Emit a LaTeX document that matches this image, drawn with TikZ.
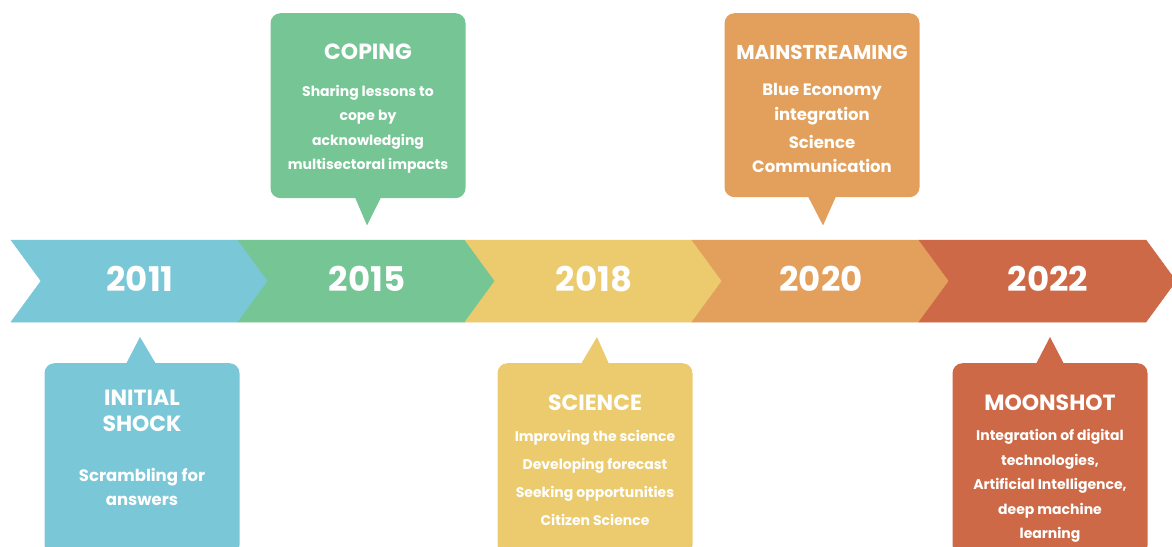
\documentclass[tikz,border=0pt]{standalone}
\usepackage{fontspec}
\setmainfont{Poppins}
\usetikzlibrary{positioning}

\definecolor{tlblue}{HTML}{7AC7D8}
\definecolor{tlgreen}{HTML}{76C695}
\definecolor{tlyellow}{HTML}{EBCB6E}
\definecolor{tlorange}{HTML}{E2A05C}
\definecolor{tlred}{HTML}{CD6946}

\begin{document}
\begin{tikzpicture}[x=1pt, y=-1pt]
    \tikzstyle{year} = [text=white, font=\fontsize{34}{34}\selectfont\bfseries]
    \tikzstyle{callout} = [rectangle, rounded corners=10pt, minimum width=195pt, inner sep=0pt]
    \tikzstyle{title} = [text=white, font=\fontsize{22}{26}\selectfont\bfseries, align=center, inner sep=0pt]
    \tikzstyle{body} = [text=white, font=\fontsize{14}{24.5}\selectfont\bfseries, align=center, inner sep=0pt]

    \useasboundingbox (0,0) rectangle (1172,546);

    % timeline band, one chevron per year
    \foreach \i/\col in {0/tlblue, 1/tlgreen, 2/tlyellow, 3/tlorange, 4/tlred} {
        \filldraw[\col, line width=0.5pt] ({11+227*\i},240) -- ++(227,0) -- ++(30,41) -- ++(-30,41) -- ++(-227,0) -- ++(30,-41) -- cycle;
    }

    \node [year] (y2011) at (140,279) {2011};
    \node [year] (y2015) at (367,279) {2015};
    \node [year] (y2018) at (594,279) {2018};
    \node [year] (y2020) at (821,279) {2020};
    \node [year] (y2022) at (1048,279) {2022};

    % callouts above the band
    \node [callout, fill=tlgreen, minimum height=185pt, anchor=north] (coping) at (368,13) {};
    \fill [tlgreen] ([xshift=-13pt,yshift=1pt]coping.south) -- ([xshift=-1pt,yshift=-27pt]coping.south) -- ([xshift=13pt,yshift=1pt]coping.south) -- cycle;
    \node [title, anchor=base] (copingt) at (368,59.7) {COPING};
    \node [body, anchor=north] (copingb) at (368,85) {Sharing lessons to\\cope by\\acknowledging\\multisectoral impacts};

    \node [callout, fill=tlorange, minimum height=184pt, anchor=north] (main) at (822,13) {};
    \fill [tlorange] ([xshift=-14pt,yshift=1pt]main.south) -- ([xshift=1pt,yshift=-28pt]main.south) -- ([xshift=14pt,yshift=1pt]main.south) -- cycle;
    \node [title, font=\fontsize{20}{26}\selectfont\bfseries, anchor=base] (maint) at (822,59) {MAINSTREAMING};
    \node [body, font=\fontsize{16.5}{24.5}\selectfont\bfseries, anchor=north] (mainb) at (822,83.3) {Blue Economy\\integration\\[3.5pt]Science\\Communication};

    % callouts below the band
    \node [callout, fill=tlblue, minimum height=192pt, anchor=north] (shock) at (142,363) {};
    \fill [tlblue] ([xshift=-16pt,yshift=-1pt]shock.north) -- ([xshift=-2pt,yshift=26pt]shock.north) -- ([xshift=14pt,yshift=-1pt]shock.north) -- cycle;
    \node [title, anchor=north] (shockt) at (142,390.3) {INITIAL\\SHOCK};
    \node [body, font=\fontsize{16.5}{24}\selectfont\bfseries, anchor=north] (shockb) at (142,468.3) {Scrambling for\\answers};

    \node [callout, fill=tlyellow, minimum height=192pt, anchor=north] (science) at (595,363) {};
    \fill [tlyellow] ([xshift=-14pt,yshift=-1pt]science.north) -- ([xshift=2pt,yshift=26pt]science.north) -- ([xshift=14pt,yshift=-1pt]science.north) -- cycle;
    \node [title, anchor=base] (sciencet) at (595,410.7) {SCIENCE};
    \node [body, font=\fontsize{14}{28}\selectfont\bfseries, anchor=north] (scienceb) at (595,430.2) {Improving the science\\Developing forecast\\Seeking opportunities\\Citizen Science};

    \node [callout, fill=tlred, minimum height=192pt, anchor=north] (moon) at (1050,363) {};
    \fill [tlred] ([xshift=-14pt,yshift=-1pt]moon.north) -- ([yshift=26pt]moon.north) -- ([xshift=14pt,yshift=-1pt]moon.north) -- cycle;
    \node [title, anchor=base] (moont) at (1050,410.7) {MOONSHOT};
    \node [body, anchor=north] (moonb) at (1050,429.2) {Integration of digital\\technologies,\\Artificial Intelligence,\\deep machine\\learning};
\end{tikzpicture}
\end{document}
